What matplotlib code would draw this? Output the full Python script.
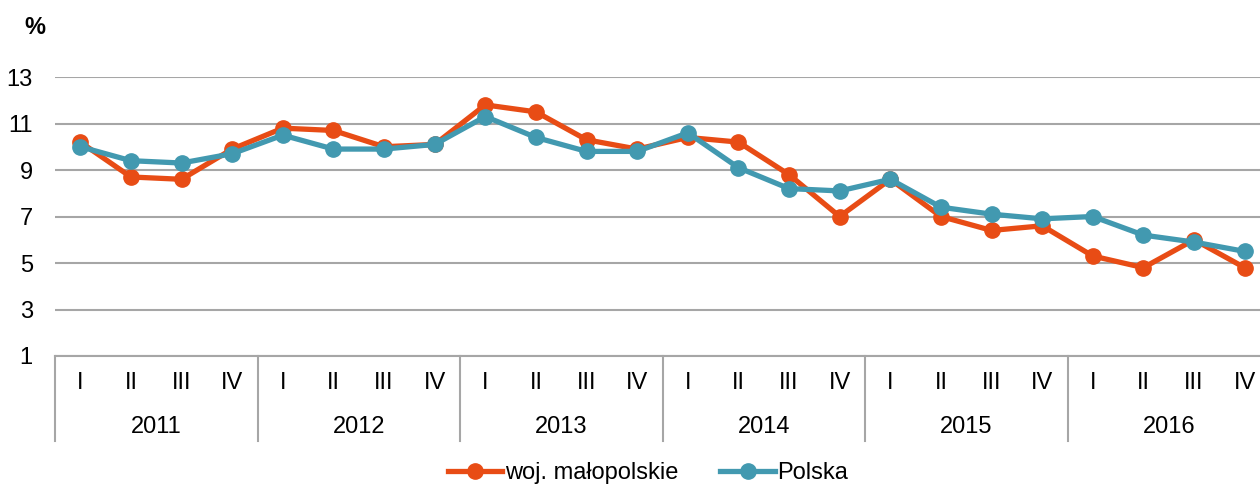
import matplotlib
import numpy as np

matplotlib.use("Agg")
from matplotlib import pyplot as plt
from matplotlib.lines import Line2D
from matplotlib.transforms import blended_transform_factory

years = ["2011", "2012", "2013", "2014", "2015", "2016"]
quarters = ["I", "II", "III", "IV"]

malopolskie = [10.2, 8.7, 8.6, 9.9, 10.8, 10.7, 10.0, 10.1,
               11.8, 11.5, 10.3, 9.9, 10.4, 10.2, 8.8, 7.0,
               8.6, 7.0, 6.4, 6.6, 5.3, 4.8, 6.0, 4.8]
polska = [10.0, 9.4, 9.3, 9.7, 10.5, 9.9, 9.9, 10.1,
          11.3, 10.4, 9.8, 9.8, 10.6, 9.1, 8.2, 8.1,
          8.6, 7.4, 7.1, 6.9, 7.0, 6.2, 5.9, 5.5]
y_ticks = [1, 3, 5, 7, 9, 11, 13]

ORANGE = "#E84C15"
TEAL = "#4299B0"
GRID = "#A6A6A6"
FS = 17

plt.rcParams["font.family"] = ["Liberation Sans", "DejaVu Sans"]

fig = plt.figure(figsize=(12.6, 4.86), dpi=100)
axis = fig.add_axes([55 / 1260, 1 - 356 / 486, 1215 / 1260, 279 / 486])

x_positions = np.arange(len(malopolskie))
axis.plot(x_positions, malopolskie, color=ORANGE, lw=3.8, marker="o", ms=11,
          label="woj. małopolskie", zorder=3)
axis.plot(x_positions, polska, color=TEAL, lw=3.8, marker="o", ms=11,
          label="Polska", zorder=4)

axis.set_xlim(-0.5, len(malopolskie) - 0.5)
axis.set_ylim(y_ticks[0], y_ticks[-1])
axis.set_yticks(y_ticks)
axis.set_yticklabels([str(v) for v in y_ticks], fontsize=FS)
axis.tick_params(axis="y", length=0, pad=16)
axis.set_xticks([])
axis.grid(axis="y", color=GRID, lw=1.5)
axis.set_axisbelow(True)
for side in ["top", "right", "left"]:
    axis.spines[side].set_visible(False)
axis.spines["bottom"].set_color(GRID)
axis.spines["bottom"].set_linewidth(1.5)

# two-level category axis
trans = blended_transform_factory(axis.transData, axis.transAxes)
for i in x_positions:
    axis.text(i, -0.095, quarters[i % 4], transform=trans, ha="center",
              va="center", fontsize=FS)
for k, year in enumerate(years):
    axis.text(k * 4 + 1.5, -0.255, year, transform=trans, ha="center",
              va="center", fontsize=FS)
for k in range(len(years) + 1):
    axis.add_line(Line2D([k * 4 - 0.5] * 2, [0, -0.305], transform=trans,
                         color=GRID, lw=1.5, clip_on=False))

fig.text(35 / 1260, 1 - 28 / 486, "%", fontsize=FS, fontweight="bold",
         ha="center", va="center")

fig.legend(loc="center", bbox_to_anchor=(648 / 1260, 1 - 473 / 486), ncol=2,
           frameon=False, fontsize=FS, handlelength=2.3, handletextpad=0.1,
           columnspacing=1.8, borderaxespad=0)

fig.savefig("out.png", dpi=100)
plt.close(fig)
